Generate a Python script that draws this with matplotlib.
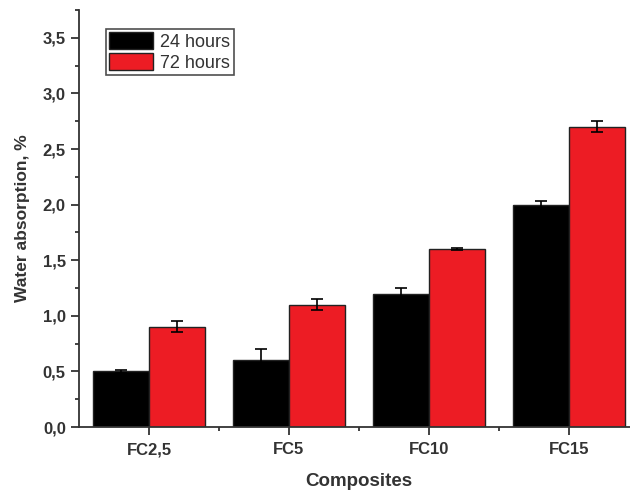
import matplotlib.pyplot as plt
import numpy as np
from matplotlib.ticker import MultipleLocator, FuncFormatter

plt.rcParams['font.family'] = ['Liberation Sans', 'DejaVu Sans']

composites = ['FC2,5', 'FC5', 'FC10', 'FC15']
hours_24 = [0.50, 0.60, 1.20, 2.00]
hours_24_err = [0.01, 0.10, 0.05, 0.03]
hours_72 = [0.90, 1.10, 1.60, 2.70]
hours_72_err = [0.05, 0.05, 0.01, 0.05]

fig = plt.figure(figsize=(6.3, 4.91), dpi=100)
ax = fig.add_axes([79 / 630, 1 - 427 / 491, 560 / 630, 417 / 491])

x = np.arange(1, len(composites) + 1)
w = 0.4
err_kw = dict(ecolor='black', elinewidth=1.2, capsize=4, capthick=1.2)
ax.bar(x - w / 2, hours_24, w, yerr=hours_24_err, color='black',
       edgecolor='#222222', linewidth=1, label='24 hours', error_kw=err_kw)
ax.bar(x + w / 2, hours_72, w, yerr=hours_72_err, color='#ed1c24',
       edgecolor='#222222', linewidth=1, label='72 hours', error_kw=err_kw)

ax.set_xlim(0.5, 4.5)
ax.set_ylim(0, 3.75)
ax.set_xticks(x)
ax.set_xticklabels(composites)
ax.set_xticks([1.5, 2.5, 3.5], minor=True)
ax.yaxis.set_major_locator(MultipleLocator(0.5))
ax.yaxis.set_minor_locator(MultipleLocator(0.25))
ax.yaxis.set_major_formatter(FuncFormatter(lambda v, p: f'{v:.1f}'.replace('.', ',')))

for s in ['top', 'right']:
    ax.spines[s].set_visible(False)
for s in ['left', 'bottom']:
    ax.spines[s].set_linewidth(1.3)
    ax.spines[s].set_color('#333333')

ax.tick_params(which='major', direction='out', length=6, width=1.3,
               color='#333333', labelsize=12, labelcolor='#333333')
ax.tick_params(which='minor', direction='out', length=3, width=1.3, color='#333333')
ax.tick_params(axis='x', which='major', pad=5)
for lbl in ax.get_xticklabels() + ax.get_yticklabels():
    lbl.set_fontweight('bold')

ax.set_ylabel('Water absorption, %', fontsize=12.5, fontweight='bold',
              color='#333333', labelpad=9)
ax.set_xlabel('Composites', fontsize=13.5, fontweight='bold',
              color='#333333', labelpad=11)

leg = ax.legend(loc='upper left', bbox_to_anchor=(0.048, 0.955), fontsize=13,
                frameon=True, fancybox=False, handlelength=2.4, handleheight=1.0,
                handletextpad=0.4, borderpad=0.2, labelspacing=0.15,
                borderaxespad=0)
leg.get_frame().set_edgecolor('#222222')
leg.get_frame().set_linewidth(1.2)
for t in leg.get_texts():
    t.set_color('#333333')

fig.savefig('out.png', dpi=100)
